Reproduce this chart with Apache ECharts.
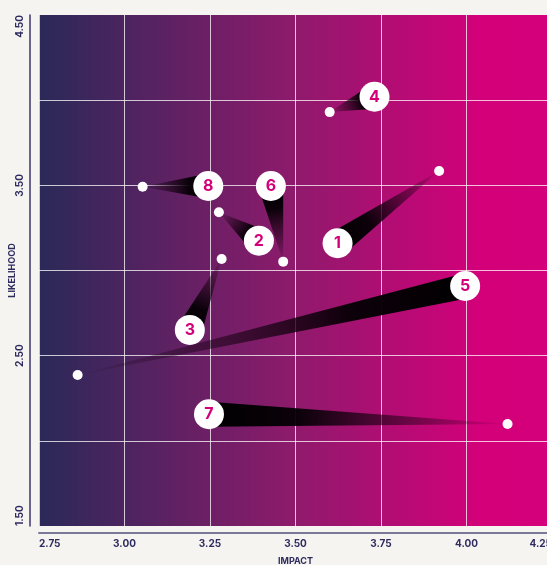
<!DOCTYPE html>
<html>
<head>
<meta charset="utf-8">
<script src="https://cdn.jsdelivr.net/npm/echarts@6/dist/echarts.min.js"></script>
<style>
  html, body { margin: 0; padding: 0; background: #f5f4f0; }
  #chart { width: 547px; height: 565px; }
</style>
</head>
<body>
<div id="chart"></div>
<script>
// risk ids
var riskIds = ['1', '2', '3', '4', '5', '6', '7', '8'];
// where the white dot sits (impact, likelihood)
var dotImpact = [3.92, 3.276, 3.284, 3.60, 2.863, 3.464, 4.12, 3.053];
var dotLikelihood = [3.584, 3.342, 3.068, 3.93, 2.387, 3.052, 2.099, 3.492];
// where the numbered bubble sits
var tagImpact = [3.623, 3.393, 3.191, 3.731, 3.996, 3.428, 3.247, 3.245];
var tagLikelihood = [3.16, 3.175, 2.651, 4.02, 2.909, 3.496, 2.156, 3.496];
// axis ticks (only these y values carry a label)
var impactTicks = [2.75, 3.00, 3.25, 3.50, 3.75, 4.00, 4.25];
var likelihoodTicks = [1.50, 2.50, 3.50, 4.50];

var magenta = '#d3007a';
var navy = '#2e2b5f';

var chart = echarts.init(document.getElementById('chart'));

var dots = [];
var tags = [];
var tails = [];
for (var i = 0; i < riskIds.length; i++) {
  dots.push([dotImpact[i], dotLikelihood[i]]);
  tags.push({ value: [tagImpact[i], tagLikelihood[i]], name: riskIds[i] });
  tails.push([tagImpact[i], tagLikelihood[i], dotImpact[i], dotLikelihood[i]]);
}

// tapered black tail from bubble to dot
function renderTail(params, api) {
  var c = api.coord([api.value(0), api.value(1)]);
  var d = api.coord([api.value(2), api.value(3)]);
  var dx = d[0] - c[0], dy = d[1] - c[1];
  var len = Math.sqrt(dx * dx + dy * dy);
  var hw = 12.5;
  var nx = -dy / len * hw, ny = dx / len * hw;
  return {
    type: 'polygon',
    shape: { points: [[c[0] + nx, c[1] + ny], [c[0] - nx, c[1] - ny], [d[0], d[1]]] },
    style: {
      fill: new echarts.graphic.LinearGradient(c[0], c[1], d[0], d[1], [
        { offset: 0, color: 'rgba(0,0,0,1)' },
        { offset: 0.3, color: 'rgba(5,0,5,0.95)' },
        { offset: 0.65, color: 'rgba(20,0,15,0.5)' },
        { offset: 1, color: 'rgba(20,0,15,0.02)' }
      ], true)
    }
  };
}

function fmtX(v) { return v.toFixed(2); }
function fmtY(v) {
  for (var k = 0; k < likelihoodTicks.length; k++) {
    if (Math.abs(likelihoodTicks[k] - v) < 1e-6) return v.toFixed(2);
  }
  return '';
}

chart.setOption({
  backgroundColor: '#f5f4f0',
  animation: false,
  grid: {
    left: 39,
    top: 15,
    width: 513,
    height: 511,
    outerBoundsMode: 'none',
    containLabel: false,
    show: true,
    borderWidth: 0,
    backgroundColor: new echarts.graphic.LinearGradient(0, 0, 1, 0, [
      { offset: 0, color: '#2a2958' },
      { offset: 0.5, color: '#8f1a6c' },
      { offset: 0.86, color: '#d3007a' },
      { offset: 1, color: '#d5007b' }
    ])
  },
  xAxis: {
    type: 'value',
    min: 2.75,
    max: 4.25,
    interval: 0.25,
    offset: 7,
    name: 'IMPACT',
    nameLocation: 'middle',
    nameGap: 24,
    nameMoveOverlap: false,
    nameTextStyle: { color: navy, fontWeight: 'bold', fontSize: 9, fontFamily: 'Inter' },
    axisLine: { show: true, lineStyle: { color: '#7a7a98', width: 2 } },
    axisTick: { show: false },
    axisLabel: {
      color: navy, fontWeight: 'bold', fontSize: 10, fontFamily: 'Inter', margin: 6,
      alignMinLabel: 'left', alignMaxLabel: 'right',
      formatter: fmtX
    },
    splitLine: { show: true, lineStyle: { color: 'rgba(255,255,255,0.75)', width: 1 } }
  },
  yAxis: {
    type: 'value',
    min: 1.5,
    max: 4.5,
    interval: 0.5,
    offset: 9,
    name: 'LIKELIHOOD',
    nameLocation: 'middle',
    nameGap: 13,
    nameMoveOverlap: false,
    nameTextStyle: { color: navy, fontWeight: 'bold', fontSize: 9, fontFamily: 'Inter' },
    axisLine: { show: true, lineStyle: { color: '#3b3670', width: 1.5 } },
    axisTick: { show: false },
    axisLabel: {
      color: navy, fontWeight: 'bold', fontSize: 10, fontFamily: 'Inter', margin: 5,
      rotate: 90,
      alignMinLabel: 'left', alignMaxLabel: 'right',
      formatter: fmtY
    },
    splitLine: { show: true, showMinLine: false, showMaxLine: false, lineStyle: { color: 'rgba(255,255,255,0.75)', width: 1 } }
  },
  series: [{
    type: 'custom',
    renderItem: renderTail,
    encode: { x: [0, 2], y: [1, 3] },
    data: tails,
    z: 2
  }, {
    type: 'scatter',
    data: dots,
    symbolSize: 10,
    itemStyle: { color: '#ffffff', opacity: 1 },
    z: 3
  }, {
    type: 'scatter',
    data: tags,
    symbolSize: 30,
    itemStyle: { color: '#ffffff', opacity: 1 },
    label: {
      show: true,
      position: 'inside',
      formatter: '{b}',
      color: magenta,
      fontSize: 16,
      fontWeight: 'bold',
      fontFamily: 'Inter'
    },
    z: 4
  }]
});
</script>
</body>
</html>
